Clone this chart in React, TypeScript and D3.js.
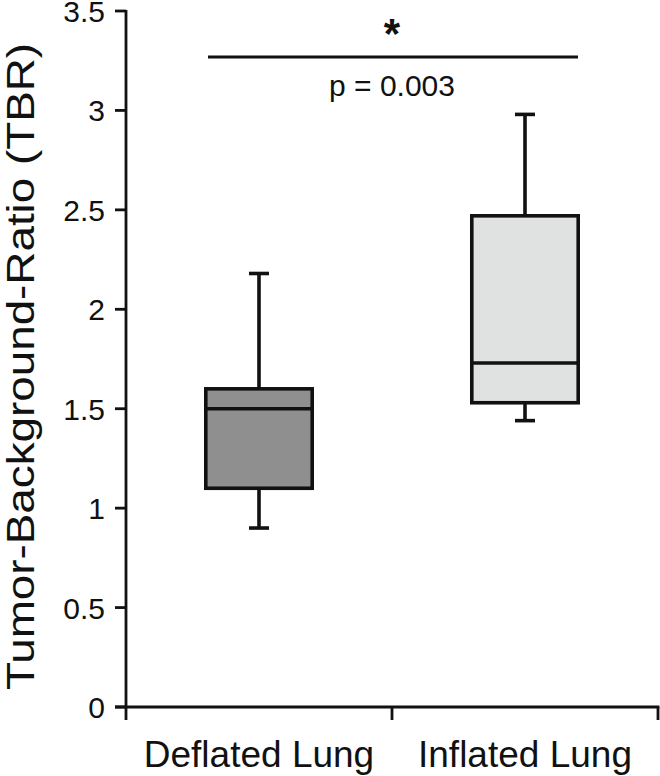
import React, { useEffect, useRef } from 'react';
import * as d3 from 'd3';

// box plot values
const categories = ['Deflated Lung', 'Inflated Lung'];
const whiskerLow = [0.9, 1.44];
const q1 = [1.1, 1.53];
const median = [1.5, 1.73];
const q3 = [1.6, 2.47];
const whiskerHigh = [2.18, 2.98];
const boxFills = ['#8f8f8f', '#e0e1e1'];
const yTicks = [0, 0.5, 1, 1.5, 2, 2.5, 3, 3.5];
const yTickLabels = ['0', '0.5', '1', '1.5', '2', '2.5', '3', '3.5'];
const pLabel = 'p = 0.003';
const starLabel = '*';
const yTitle = 'Tumor-Background-Ratio (TBR)';

const App = () => {
  const ref = useRef<SVGSVGElement | null>(null);

  useEffect(() => {
    const width = 660;
    const height = 776;
    const margin = { top: 11, right: 2, bottom: 69, left: 126 };
    const font = 'Arial, "Liberation Sans", sans-serif';
    const ink = '#111';

    const svg = d3.select(ref.current);
    svg.selectAll('*').remove();

    const xScale = d3.scaleBand()
      .domain(categories)
      .range([margin.left, width - margin.right])
      .paddingInner(0)
      .paddingOuter(0);

    const yScale = d3.scaleLinear()
      .domain([0, 3.5])
      .range([height - margin.bottom, margin.top]);

    const y0 = yScale(0);

    // y axis
    const yAxis = svg.append('g');
    yAxis.append('line')
      .attr('x1', margin.left).attr('x2', margin.left)
      .attr('y1', yScale(3.5) - 1).attr('y2', y0 + 13)
      .attr('stroke', ink).attr('stroke-width', 2.8);
    yAxis.selectAll('.ytick')
      .data(yTicks)
      .enter()
      .append('line')
      .attr('x1', margin.left - 11).attr('x2', margin.left)
      .attr('y1', d => yScale(d)).attr('y2', d => yScale(d))
      .attr('stroke', ink).attr('stroke-width', 2.8);
    yAxis.selectAll('text')
      .data(yTicks)
      .enter()
      .append('text')
      .attr('x', margin.left - 21)
      .attr('y', d => yScale(d) + 11)
      .attr('text-anchor', 'end')
      .style('font-family', font)
      .style('font-size', '30px')
      .attr('fill', ink)
      .text((d, i) => yTickLabels[i]);

    // x axis, ticks at the band edges
    const edges = [xScale(categories[0]), xScale(categories[1]), xScale(categories[1]) + xScale.bandwidth()];
    svg.append('line')
      .attr('x1', margin.left - 11).attr('x2', edges[2] + 1.4)
      .attr('y1', y0).attr('y2', y0)
      .attr('stroke', ink).attr('stroke-width', 2.8);
    svg.selectAll('.xtick')
      .data(edges.slice(1))
      .enter()
      .append('line')
      .attr('x1', d => d).attr('x2', d => d)
      .attr('y1', y0).attr('y2', y0 + 13)
      .attr('stroke', ink).attr('stroke-width', 2.8);
    svg.selectAll('.xlabel')
      .data(categories)
      .enter()
      .append('text')
      .attr('x', d => xScale(d) + xScale.bandwidth() / 2)
      .attr('y', 767)
      .attr('text-anchor', 'middle')
      .style('font-family', font)
      .style('font-size', '37px')
      .attr('fill', ink)
      .text(d => d);

    // y axis title
    svg.append('text')
      .attr('transform', `translate(34, ${(43 + 690) / 2}) rotate(-90)`)
      .attr('text-anchor', 'middle')
      .attr('textLength', 647)
      .attr('lengthAdjust', 'spacingAndGlyphs')
      .style('font-family', font)
      .style('font-size', '38px')
      .attr('fill', ink)
      .text(yTitle);

    // boxes
    const boxW = xScale.bandwidth() * 0.4;
    const capW = 20;
    const g = svg.append('g');
    categories.forEach((c, i) => {
      const cx = xScale(c) + xScale.bandwidth() / 2;
      g.append('line')
        .attr('x1', cx).attr('x2', cx)
        .attr('y1', yScale(whiskerHigh[i])).attr('y2', yScale(whiskerLow[i]))
        .attr('stroke', ink).attr('stroke-width', 3.6);
      [whiskerHigh[i], whiskerLow[i]].forEach(v => {
        g.append('line')
          .attr('x1', cx - capW / 2).attr('x2', cx + capW / 2)
          .attr('y1', yScale(v)).attr('y2', yScale(v))
          .attr('stroke', ink).attr('stroke-width', 3.6);
      });
      g.append('rect')
        .attr('x', cx - boxW / 2)
        .attr('y', yScale(q3[i]))
        .attr('width', boxW)
        .attr('height', yScale(q1[i]) - yScale(q3[i]))
        .attr('fill', boxFills[i])
        .attr('stroke', ink).attr('stroke-width', 3.6);
      g.append('line')
        .attr('x1', cx - boxW / 2).attr('x2', cx + boxW / 2)
        .attr('y1', yScale(median[i])).attr('y2', yScale(median[i]))
        .attr('stroke', ink).attr('stroke-width', 3.6);
    });

    // significance bar
    svg.append('line')
      .attr('x1', 208).attr('x2', 578)
      .attr('y1', 57).attr('y2', 57)
      .attr('stroke', ink).attr('stroke-width', 3);
    svg.append('text')
      .attr('x', 392).attr('y', 48)
      .attr('text-anchor', 'middle')
      .style('font-family', font)
      .style('font-size', '42px')
      .style('font-weight', 'bold')
      .attr('fill', ink)
      .text(starLabel);
    svg.append('text')
      .attr('x', 392).attr('y', 96)
      .attr('text-anchor', 'middle')
      .style('font-family', font)
      .style('font-size', '30px')
      .attr('fill', ink)
      .text(pLabel);
  }, []);

  return (
    <svg
      ref={ref}
      width={660}
      height={776}
      style={{ position: 'absolute', left: 0, top: 0, background: '#fff' }}
    />
  );
};

export default App;
